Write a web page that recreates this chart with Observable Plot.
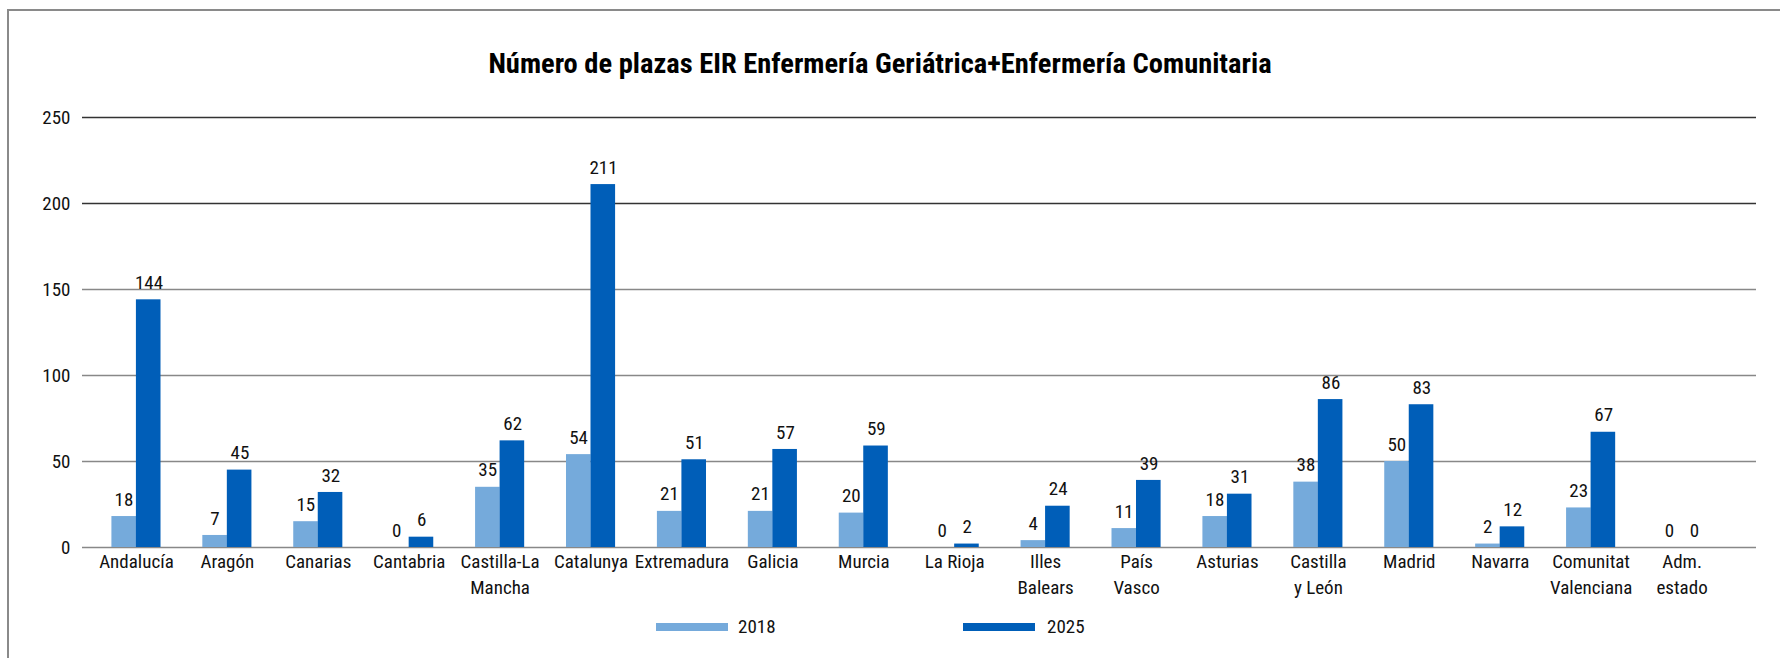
<!DOCTYPE html>
<html>
<head>
<meta charset="utf-8">
<script src="https://cdn.jsdelivr.net/npm/d3@7"></script>
<script src="https://cdn.jsdelivr.net/npm/@observablehq/plot@0.6"></script>
<style>
  html, body { margin: 0; padding: 0; background: #fff; }
  body { width: 1780px; height: 658px; overflow: hidden; position: relative;
         font-family: "Roboto Condensed", "Roboto", sans-serif; font-stretch: 75%; color: #111; }
  #frame { position: absolute; left: 7px; top: 9px; right: -10px; bottom: -10px;
           border-left: 2px solid #8a8a8a; border-top: 2px solid #8a8a8a; pointer-events: none; }
  #title { height: 95px; box-sizing: border-box; padding-top: 48px; width: 1760px;
           text-align: center; font-weight: bold; font-size: 28.5px; line-height: 32px; color: #000; }
  #chart { height: 515px; }
  #legend { position: relative; height: 48px; font-size: 19px; }
  .sw { position: absolute; top: 13px; width: 72px; height: 8px; }
  .lt { position: absolute; top: 5px; line-height: 24px; }
</style>
</head>
<body>
<div id="frame"></div>
<div id="title">Número de plazas EIR Enfermería Geriátrica+Enfermería Comunitaria</div>
<div id="chart"></div>
<div id="legend"></div>
<script>
const regions = ["Andalucía", "Aragón", "Canarias", "Cantabria", "Castilla-La\nMancha", "Catalunya", "Extremadura", "Galicia", "Murcia", "La Rioja", "Illes\nBalears", "País\nVasco", "Asturias", "Castilla\ny León", "Madrid", "Navarra", "Comunitat\nValenciana", "Adm.\nestado"];
const values2018 = [18, 7, 15, 0, 35, 54, 21, 21, 20, 0, 4, 11, 18, 38, 50, 2, 23, 0];
const values2025 = [144, 45, 32, 6, 62, 211, 51, 57, 59, 2, 24, 39, 31, 86, 83, 12, 67, 0];
const years = ["2018", "2025"];
const colors = ["#75aadb", "#005eb8"];
const yTicks = [0, 50, 100, 150, 200, 250];

const d2018 = regions.map((r, i) => ({region: r, value: values2018[i]}));
const d2025 = regions.map((r, i) => ({region: r, value: values2025[i]}));

const font = '"Roboto Condensed", "Roboto", sans-serif';

const chart = Plot.plot({
  width: 1780,
  height: 515,
  marginTop: 22,
  marginBottom: 63,
  marginLeft: 82,
  marginRight: 24,
  style: {fontFamily: font, fontSize: "19px", color: "#111", background: "transparent", fontStretch: "75%"},
  x: {domain: regions, paddingInner: 0.46, paddingOuter: 0.23, insetLeft: 8.5, insetRight: 29, round: false, label: null},
  y: {domain: [0, 250], ticks: yTicks, label: null},
  marks: [
    Plot.ruleY(yTicks.filter(t => t >= 200), {stroke: "#333", strokeWidth: 1.3}),
    Plot.ruleY(yTicks.filter(t => t < 200), {stroke: "#888", strokeWidth: 1.6}),
    Plot.barY(d2018, {x: "region", y: "value", fill: colors[0], insetRight: 24.5}),
    Plot.barY(d2025, {x: "region", y: "value", fill: colors[1], insetLeft: 24.5}),
    Plot.text(d2018, {x: "region", y: "value", text: d => String(d.value), dx: -12.5, dy: -17, fill: "#111", fontSize: 19}),
    Plot.text(d2025, {x: "region", y: "value", text: d => String(d.value), dx: 12.5, dy: -17, fill: "#111", fontSize: 19}),
    Plot.axisY({ticks: yTicks, tickSize: 0, tickPadding: 12, fontSize: 19, label: null}),
    Plot.axisX({tickSize: 0, tickPadding: 2, fontSize: 19, lineHeight: 1.38, label: null, tickFormat: d => d})
  ]
});
document.getElementById("chart").appendChild(chart);

const legend = document.getElementById("legend");
const pos = [[656, 738], [963, 1047]];
years.forEach((y, i) => {
  const s = document.createElement("div");
  s.className = "sw"; s.style.left = pos[i][0] + "px"; s.style.background = colors[i];
  const t = document.createElement("div");
  t.className = "lt"; t.style.left = pos[i][1] + "px"; t.textContent = y;
  legend.appendChild(s); legend.appendChild(t);
});
</script>
</body>
</html>
